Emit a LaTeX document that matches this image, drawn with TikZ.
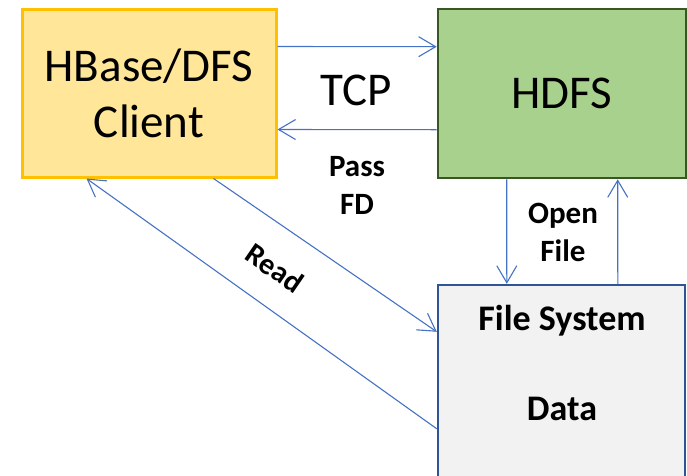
\documentclass[tikz,border=0pt]{standalone}
\usepackage{fontspec}
\setmainfont{Carlito}
\usetikzlibrary{arrows.meta}
\definecolor{cfill}{HTML}{FFE699}
\definecolor{cline}{HTML}{FFC000}
\definecolor{hfill}{HTML}{A9D18E}
\definecolor{hline}{HTML}{385723}
\definecolor{ffill}{HTML}{F2F2F2}
\definecolor{fline}{HTML}{2F5597}
\definecolor{arrcol}{HTML}{4472C4}
\begin{document}
\begin{tikzpicture}[x=1pt,y=-1pt,
  box/.style={draw, rectangle, inner sep=0pt, align=center},
  big/.style={font=\fontsize{47}{56}\selectfont},
  lbl/.style={font=\bfseries\fontsize{31}{38}\selectfont, align=center},
  fstext/.style={font=\bfseries\fontsize{36}{43}\selectfont, anchor=base},
  conn/.style={draw=arrcol, line width=1.1pt, -{Straight Barb[length=17pt,width=20pt]}}]
\useasboundingbox (0,0) rectangle (687,475);
\clip (0,0) rectangle (687,475);
\node[box, big, fill=cfill, draw=cline, line width=3pt, minimum width=254pt, minimum height=168pt] (client) at (149,93) {HBase/DFS\\Client};
\node[box, big, fill=hfill, draw=hline, line width=2.6pt, minimum width=248pt, minimum height=169pt] (hdfs) at (562,93.5) {HDFS};
\node[box, fill=ffill, draw=fline, line width=2.4pt, minimum width=247pt, minimum height=215pt] (fs) at (561.5,392.5) {};
\node[fstext] (fst1) at (562,330) {File System};
\node[fstext] (fst2) at (562,420) {Data};
\node[big] (tcp) at (356,90) {TCP};
\node[lbl] (pass) at (357,185) {Pass\\FD};
\node[lbl] (open) at (563,232) {Open\\File};
\node[inner sep=0pt, font=\bfseries\fontsize{30}{34}\selectfont, rotate=-34.5] (read) at (275,268) {Read};
\draw[conn] ([yshift=-39pt]client.north east) -- ([yshift=-39pt]hdfs.north west);
\draw[conn] ([yshift=-122pt]hdfs.north west) -- ([yshift=-122pt]client.north east);
\draw[conn] ([xshift=70pt]hdfs.south west) -- ([xshift=70pt]fs.north west);
\draw[conn] ([xshift=181pt]fs.north west) -- ([xshift=181pt]hdfs.south west);
\draw[conn] ([xshift=193pt]client.south west) -- ([yshift=-48pt]fs.north west);
\draw[conn] ([yshift=-145pt]fs.north west) -- ([xshift=66pt]client.south west);
\end{tikzpicture}
\end{document}
